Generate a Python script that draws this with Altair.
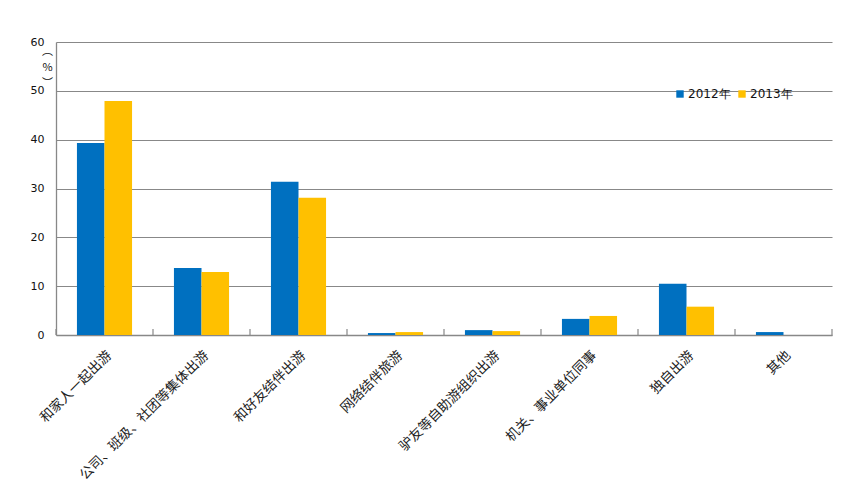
import altair as alt
import pandas as pd

categories = ["和家人一起出游", "公司、班级、社团等集体出游", "和好友结伴出游", "网络结伴旅游",
              "驴友等自助游组织出游", "机关、事业单位同事", "独自出游", "其他"]
series = ["2012年", "2013年"]
v2012 = [39.3, 13.7, 31.4, 0.4, 1.0, 3.3, 10.5, 0.6]
v2013 = [47.9, 12.9, 28.1, 0.6, 0.8, 3.9, 5.8, 0.0]
y_ticks = [0, 10, 20, 30, 40, 50, 60]

rows = []
for c, a, b in zip(categories, v2012, v2013):
    rows.append({"cat": c, "year": series[0], "value": a})
    rows.append({"cat": c, "year": series[1], "value": b})
df = pd.DataFrame(rows)
ticks_df = pd.DataFrame({"cat": categories})

W, H = 776, 293

xscale = alt.Scale(domain=categories, paddingInner=0, paddingOuter=0)

bars = alt.Chart(df).mark_bar().encode(
    x=alt.X("cat:N", sort=categories, scale=xscale,
            axis=alt.Axis(title=None, labelAngle=-45, labelAlign="right", labelBaseline="top",
                          labelFont="Noto Sans CJK SC", labelFontSize=13.5, labelColor="#222",
                          ticks=False, domainColor="#888", domainWidth=1.3, labelPadding=13,
                          labelLimit=300)),
    xOffset=alt.XOffset("year:N", sort=series,
                        scale=alt.Scale(paddingInner=0, paddingOuter=0.76)),
    y=alt.Y("value:Q", scale=alt.Scale(domain=[0, 60], nice=False),
            axis=alt.Axis(values=y_ticks, title=["︵", "%", "︶"], titleAngle=0,
                          titleX=-9, titleY=3, titleBaseline="top", titleFontSize=11,
                          titleFontWeight="normal", titleFont="Noto Sans CJK SC",
                          titleLineHeight=16, titleColor="#111",
                          labelFont="DejaVu Sans", labelFontSize=11, labelColor="#111",
                          ticks=False, labelPadding=12, domainColor="#888", domainWidth=1.3,
                          gridColor="#888", gridWidth=1.2, gridOpacity=1)),
    color=alt.Color("year:N", sort=series,
                    scale=alt.Scale(domain=series, range=["#0070C0", "#FFC000"]),
                    legend=alt.Legend(title=None, orient="none", direction="horizontal",
                                      legendX=618, legendY=46, symbolType="square",
                                      symbolSize=55, symbolStrokeWidth=0, labelFontSize=12,
                                      labelFont="DejaVu Sans", labelColor="#111",
                                      columnPadding=5, labelOffset=2)),
)

tick_marks = alt.Chart(ticks_df).mark_rule(color="#888", strokeWidth=1.2).encode(
    x=alt.X("cat:N", sort=categories, scale=xscale, bandPosition=0),
    y=alt.value(H - 6),
    y2=alt.value(H),
)

end_tick = alt.Chart(ticks_df.head(1)).mark_rule(color="#888", strokeWidth=1.2).encode(
    x=alt.value(W),
    y=alt.value(H - 6),
    y2=alt.value(H),
)

chart = alt.layer(bars, tick_marks, end_tick).properties(
    width=W, height=H,
    autosize=alt.AutoSizeParams(type="none"),
    padding={"left": 48, "top": 34, "right": 23, "bottom": 150},
    background="white",
).configure_view(stroke=None)

chart.save("out.html", embed_options={"renderer": "svg", "actions": False})
